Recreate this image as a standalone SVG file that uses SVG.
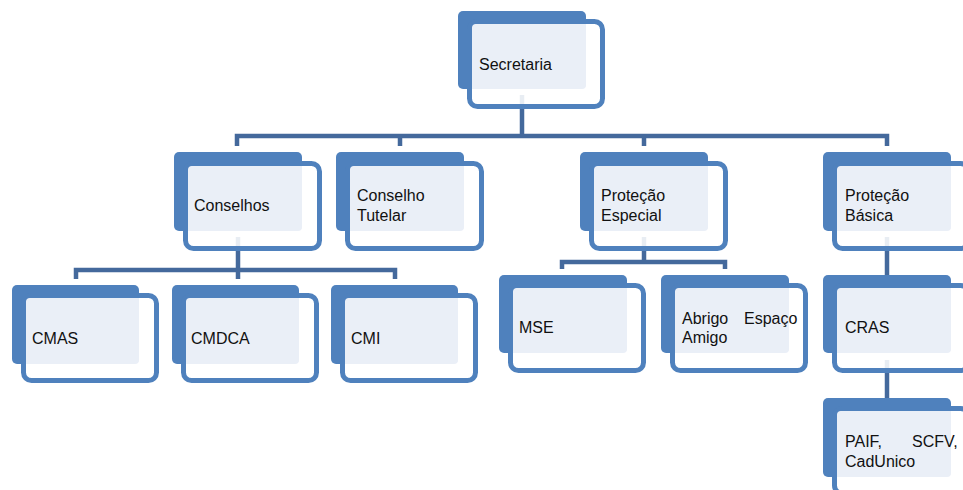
<svg xmlns="http://www.w3.org/2000/svg" width="963" height="490" viewBox="0 0 963 490">
<defs>
<style>
.bg{fill:#FFFFFF}
.back{fill:#4F81BD}
.front{fill:#FFFFFF;fill-opacity:0.88;stroke:#4F81BD;stroke-width:5}
.light{fill:#EAEFF7}
.conn{fill:none;stroke:#44699C;stroke-width:4.5;stroke-linejoin:miter}
.t{font-family:"Liberation Sans",Arial,sans-serif;font-size:16px;fill:#111111}
</style>
</defs>
<rect class="bg" x="0" y="0" width="963" height="490"/>
<g id="connectors">
<path class="conn" d="M522 95 V136 M237 146 V136 H887 V146 M400 136 V146 M644 136 V146"/>
<path class="conn" d="M238 237 V270 M76 279 V270 H395 V279 M238 270 V279"/>
<path class="conn" d="M644 237 V262 M562 269 V262 H725 V269"/>
<path class="conn" d="M887 237 V275"/>
<path class="conn" d="M887 360 V398"/>
</g>
<g id="secretaria">
<rect class="back" x="458" y="11" width="128" height="78" rx="5"/>
<rect class="front" x="469.5" y="21.5" width="133" height="85" rx="8"/>
<rect class="light" x="472" y="24" width="114" height="65" rx="4"/>
<text class="t" x="479" y="70">Secretaria</text>
</g>
<g id="conselhos">
<rect class="back" x="174" y="152" width="128" height="79" rx="5"/>
<rect class="front" x="185.5" y="163.5" width="134" height="85" rx="8"/>
<rect class="light" x="188" y="166" width="114" height="65" rx="4"/>
<text class="t" x="194" y="211">Conselhos</text>
</g>
<g id="conselho-tutelar">
<rect class="back" x="336" y="152" width="128" height="79" rx="5"/>
<rect class="front" x="347.5" y="163.5" width="134" height="85" rx="8"/>
<rect class="light" x="350" y="166" width="114" height="65" rx="4"/>
<text class="t"><tspan x="357" y="201">Conselho</tspan><tspan x="357" y="221">Tutelar</tspan></text>
</g>
<g id="protecao-especial">
<rect class="back" x="580" y="152" width="128" height="79" rx="5"/>
<rect class="front" x="591.5" y="163.5" width="134" height="85" rx="8"/>
<rect class="light" x="594" y="166" width="114" height="65" rx="4"/>
<text class="t"><tspan x="601" y="201">Proteção</tspan><tspan x="601" y="221">Especial</tspan></text>
</g>
<g id="protecao-basica">
<rect class="back" x="823" y="152" width="128" height="79" rx="5"/>
<rect class="front" x="834.5" y="163.5" width="134" height="85" rx="8"/>
<rect class="light" x="837" y="166" width="114" height="65" rx="4"/>
<text class="t"><tspan x="845" y="201">Proteção</tspan><tspan x="845" y="221">Básica</tspan></text>
</g>
<g id="cmas">
<rect class="back" x="12" y="285" width="127" height="79" rx="5"/>
<rect class="front" x="23.5" y="295.5" width="133" height="85" rx="8"/>
<rect class="light" x="26" y="298" width="113" height="66" rx="4"/>
<text class="t" x="32" y="344">CMAS</text>
</g>
<g id="cmdca">
<rect class="back" x="172" y="285" width="127" height="79" rx="5"/>
<rect class="front" x="183.5" y="295.5" width="133" height="85" rx="8"/>
<rect class="light" x="186" y="298" width="113" height="66" rx="4"/>
<text class="t" x="191" y="344">CMDCA</text>
</g>
<g id="cmi">
<rect class="back" x="331" y="285" width="127" height="79" rx="5"/>
<rect class="front" x="342.5" y="295.5" width="133" height="85" rx="8"/>
<rect class="light" x="345" y="298" width="113" height="66" rx="4"/>
<text class="t" x="351" y="344">CMI</text>
</g>
<g id="mse">
<rect class="back" x="499" y="275" width="128" height="78" rx="5"/>
<rect class="front" x="510.5" y="285.5" width="133" height="85" rx="8"/>
<rect class="light" x="513" y="288" width="114" height="65" rx="4"/>
<text class="t" x="519" y="333">MSE</text>
</g>
<g id="abrigo">
<rect class="back" x="661" y="275" width="128" height="78" rx="5"/>
<rect class="front" x="672.5" y="285.5" width="133" height="85" rx="8"/>
<rect class="light" x="675" y="288" width="114" height="65" rx="4"/>
<text class="t"><tspan x="682" y="324">Abrigo</tspan><tspan x="744" y="324">Espaço</tspan><tspan x="682" y="343">Amigo</tspan></text>
</g>
<g id="cras">
<rect class="back" x="823" y="275" width="128" height="78" rx="5"/>
<rect class="front" x="834.5" y="285.5" width="134" height="85" rx="8"/>
<rect class="light" x="837" y="288" width="114" height="65" rx="4"/>
<text class="t" x="845" y="333">CRAS</text>
</g>
<g id="paif">
<rect class="back" x="823" y="398" width="128" height="79" rx="5"/>
<rect class="front" x="834.5" y="408.5" width="134" height="85" rx="8"/>
<rect class="light" x="837" y="411" width="114" height="66" rx="4"/>
<text class="t"><tspan x="845" y="447">PAIF,</tspan><tspan x="912" y="447">SCFV,</tspan><tspan x="845" y="467">CadUnico</tspan></text>
</g>
</svg>
